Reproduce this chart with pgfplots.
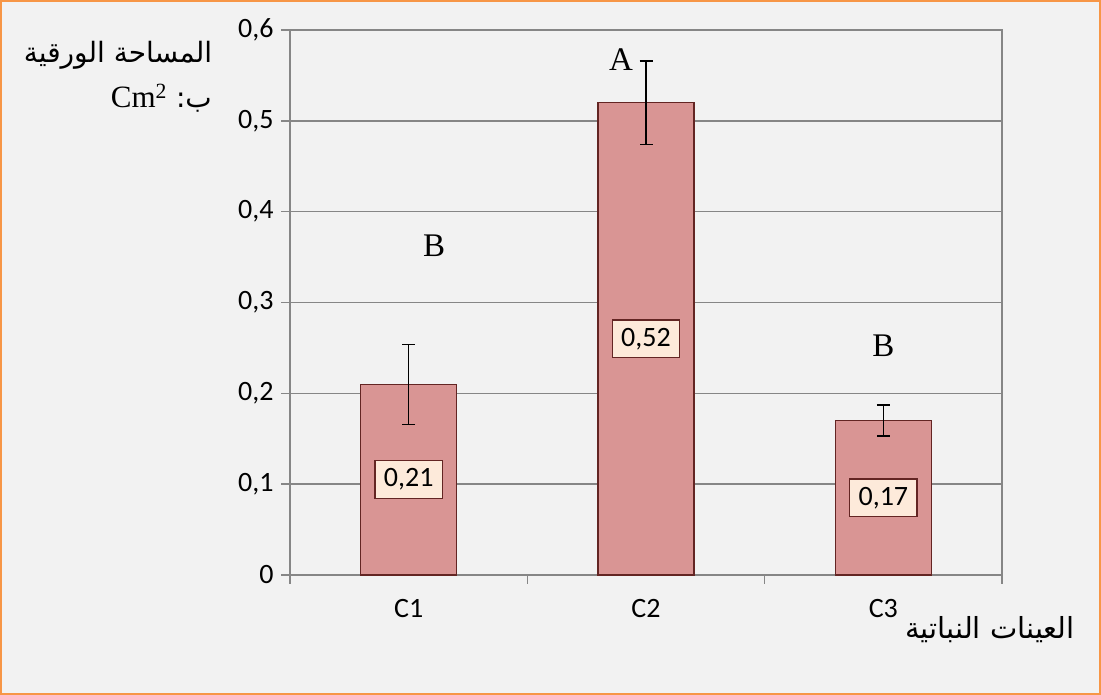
\documentclass[border=0pt]{standalone}
\usepackage{fontspec}
\usepackage{pgfplots}
\pgfplotsset{compat=1.18}
\setmainfont{Carlito}
\newfontfamily\carlito{Carlito}
\newfontfamily\timesfont{Liberation Serif}
\newfontfamily\arabicfont[Script=Arabic]{DejaVu Sans}
\TeXXeTstate=1

\definecolor{bgcol}{HTML}{F2F2F2}
\definecolor{framecol}{HTML}{F79646}
\definecolor{gridcol}{HTML}{868686}
\definecolor{barfill}{HTML}{D99594}
\definecolor{bardraw}{HTML}{632523}
\definecolor{boxfill}{HTML}{FDEADA}

\begin{document}
\begin{tikzpicture}[x=1pt,y=1pt]
\useasboundingbox (0,0) rectangle (1101,695);
\fill[bgcol] (0,0) rectangle (1101,695);
\draw[framecol, line width=2pt] (1,1) rectangle (1100,694);

\begin{axis}[
  at={(290pt,120pt)}, anchor=south west,
  scale only axis,
  width=712pt, height=545pt,
  xmin=-0.5, xmax=2.5,
  ymin=0, ymax=0.6,
  xtick={0,1,2},
  xticklabels={C1,C2,C3},
  minor xtick={-0.5,0.5,1.5,2.5},
  major x tick style={draw=none},
  ytick={0,0.1,0.2,0.3,0.4,0.5,0.6},
  tick pos=left,
  tick align=outside,
  major tick length=9pt,
  minor tick length=9pt,
  tick style={gridcol, line width=1.5pt},
  ymajorgrids,
  grid style={gridcol, line width=1.5pt},
  axis line style={gridcol, line width=1.5pt},
  x tick label style={font=\carlito\fontsize{28}{30}\selectfont, yshift=-12pt},
  y tick label style={font=\carlito\fontsize{28}{30}\selectfont, xshift=-4pt,
    /pgf/number format/.cd, use comma, fixed, precision=1, assume math mode=true},
  clip=false,
]

% bars with error bars
\addplot[ybar, bar width=96pt, fill=barfill, draw=bardraw, line width=1.4pt,
  error bars/.cd, y dir=both, y explicit,
  error bar style={black, line width=1.4pt},
  error mark options={rotate=90, black, line width=1.4pt, mark size=6.5pt}]
  coordinates {(0,0.21) +- (0,0.044) (1,0.52) +- (0,0.046) (2,0.17) +- (0,0.017)};

% value boxes
\addplot[draw=none, mark=none, nodes near coords, point meta=explicit symbolic,
  every node near coord/.append style={anchor=center, fill=boxfill, draw=bardraw,
    line width=1.4pt, inner xsep=9pt, inner ysep=8pt,
    font=\carlito\fontsize{28}{30}\selectfont}]
  coordinates {(0,0.105) [0{,}21] (1,0.26) [0{,}52] (2,0.085) [0{,}17]};

% significance letters
\addplot[draw=none, mark=none, nodes near coords, point meta=explicit symbolic,
  every node near coord/.append style={anchor=center,
    font=\timesfont\fontsize{33}{35}\selectfont}]
  coordinates {(0.895,0.567) [A] (0.107,0.362) [B] (2.0,0.252) [B]};
\end{axis}

\node[font=\arabicfont\fontsize{28}{32}\selectfont] at (118,640) {\beginR المساحة الورقية\endR};
\node[anchor=east, inner sep=0pt] at (212,597) {{\timesfont\fontsize{31}{34}\selectfont Cm\textsuperscript{2}}\hspace{9pt}{\arabicfont\fontsize{28}{32}\selectfont\beginR ب:\endR}};
\node[font=\arabicfont\fontsize{29}{32}\selectfont] at (990,65) {\beginR العينات النباتية\endR};
\end{tikzpicture}
\end{document}
